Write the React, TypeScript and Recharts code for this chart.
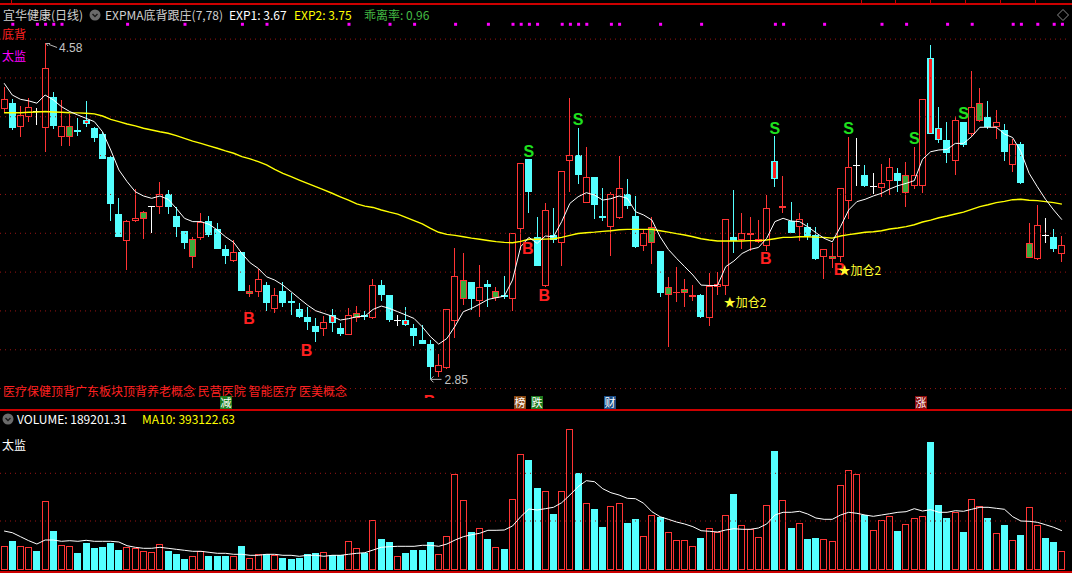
import React from "react";
import { ComposedChart, Bar, Line, XAxis, YAxis, ReferenceLine } from "recharts";

// 宜华健康 daily K-line, 130 sessions
const opens = [
  4.239, 4.273, 4.149, 4.197, 4.228, 4.141, 4.3, 4.098, 4.098, 4.134,
  4.185, 4.144, 4.111, 3.995, 3.699, 3.558, 3.661, 3.672, 3.74, 3.737,
  3.802, 3.689, 3.611, 3.479, 3.577, 3.663, 3.622, 3.519, 3.457, 3.503,
  3.288, 3.299, 3.333, 3.208, 3.304, 3.251, 3.208, 3.17, 3.124, 3.108,
  3.177, 3.111, 3.077, 3.166, 3.177, 3.166, 3.331, 3.282, 3.153, 3.153,
  3.111, 3.05, 3.029, 2.886, 2.907, 3.149, 3.259, 3.349, 3.249, 3.337,
  3.268, 3.28, 3.259, 3.62, 3.983, 3.579, 3.33, 3.591, 3.548, 3.971,
  4.003, 3.758, 3.89, 3.689, 3.63, 3.677, 3.802, 3.689, 3.536, 3.548,
  3.508, 3.28, 3.29, 3.29, 3.27, 3.282, 3.161, 3.321, 3.33, 3.581,
  3.565, 3.591, 3.556, 3.536, 3.972, 3.728, 3.663, 3.63, 3.63, 3.591,
  3.479, 3.469, 3.479, 3.768, 3.95, 3.9, 3.845, 3.831, 3.867, 3.909,
  3.809, 3.845, 3.845, 4.505, 4.144, 4.081, 3.971, 4.173, 4.111, 4.18,
  4.197, 4.149, 4.132, 3.95, 4.06, 3.471, 3.469, 3.593, 3.581, 3.491,
];
const highs = [
  4.355, 4.29, 4.256, 4.295, 4.244, 4.58, 4.33, 4.287, 4.215, 4.192,
  4.282, 4.146, 4.122, 3.996, 3.782, 3.668, 3.828, 3.715, 3.74, 3.862,
  3.823, 3.737, 3.613, 3.582, 3.704, 3.689, 3.653, 3.539, 3.565, 3.503,
  3.333, 3.414, 3.347, 3.316, 3.349, 3.29, 3.239, 3.218, 3.161, 3.173,
  3.208, 3.139, 3.215, 3.225, 3.201, 3.364, 3.359, 3.282, 3.177, 3.221,
  3.132, 3.127, 3.05, 2.977, 3.208, 3.522, 3.496, 3.349, 3.436, 3.359,
  3.325, 3.379, 3.603, 3.964, 3.983, 3.685, 3.754, 3.728, 3.921, 4.295,
  4.142, 4.043, 3.89, 3.831, 3.814, 3.998, 3.88, 3.792, 3.617, 3.682,
  3.508, 3.373, 3.424, 3.364, 3.333, 3.285, 3.397, 3.398, 3.672, 3.823,
  3.704, 3.684, 3.666, 3.797, 4.101, 3.895, 3.761, 3.703, 3.654, 3.63,
  3.52, 3.551, 3.831, 4.098, 4.091, 3.95, 3.909, 3.955, 3.988, 3.935,
  3.965, 4.046, 4.29, 4.57, 4.249, 4.172, 4.204, 4.173, 4.436, 4.347,
  4.282, 4.235, 4.163, 4.087, 4.07, 3.651, 3.747, 3.678, 3.622, 3.586,
];
const lows = [
  4.218, 4.132, 4.094, 4.175, 4.158, 4.02, 4.135, 4.051, 4.051, 4.103,
  4.146, 4.072, 3.981, 3.663, 3.579, 3.41, 3.658, 3.57, 3.603, 3.701,
  3.701, 3.582, 3.52, 3.422, 3.563, 3.582, 3.519, 3.441, 3.45, 3.304,
  3.273, 3.273, 3.201, 3.191, 3.221, 3.178, 3.166, 3.101, 3.041, 3.07,
  3.091, 3.07, 3.074, 3.142, 3.153, 3.156, 3.252, 3.144, 3.122, 3.122,
  3.019, 3.029, 2.85, 2.861, 2.902, 3.063, 3.23, 3.204, 3.17, 3.221,
  3.252, 3.264, 3.201, 3.514, 3.703, 3.431, 3.325, 3.551, 3.431, 3.814,
  3.854, 3.754, 3.675, 3.665, 3.483, 3.675, 3.723, 3.522, 3.51, 3.441,
  3.273, 3.012, 3.247, 3.221, 3.252, 3.165, 3.122, 3.282, 3.282, 3.496,
  3.517, 3.51, 3.551, 3.51, 3.837, 3.703, 3.599, 3.562, 3.565, 3.462,
  3.362, 3.422, 3.453, 3.673, 3.843, 3.837, 3.802, 3.785, 3.795, 3.814,
  3.733, 3.826, 3.806, 4.11, 4.063, 3.964, 3.902, 4.043, 4.098, 4.175,
  4.135, 4.084, 3.974, 3.916, 3.854, 3.471, 3.462, 3.551, 3.503, 3.453,
];
const closes = [
  4.29, 4.144, 4.208, 4.249, 4.228, 4.45, 4.153, 4.151, 4.151, 4.123,
  4.163, 4.093, 3.984, 3.752, 3.582, 3.663, 3.677, 3.708, 3.74, 3.8,
  3.733, 3.632, 3.55, 3.569, 3.66, 3.591, 3.519, 3.484, 3.503, 3.304,
  3.302, 3.367, 3.239, 3.28, 3.242, 3.242, 3.17, 3.142, 3.091, 3.141,
  3.139, 3.081, 3.177, 3.187, 3.168, 3.331, 3.282, 3.153, 3.153, 3.13,
  3.07, 3.031, 2.912, 2.919, 3.208, 3.378, 3.359, 3.263, 3.321, 3.325,
  3.302, 3.27, 3.599, 3.96, 3.814, 3.433, 3.718, 3.565, 3.921, 4.001,
  3.902, 3.89, 3.744, 3.68, 3.802, 3.831, 3.742, 3.531, 3.599, 3.63,
  3.294, 3.321, 3.3, 3.312, 3.28, 3.17, 3.33, 3.337, 3.672, 3.558,
  3.599, 3.601, 3.57, 3.728, 3.879, 3.742, 3.603, 3.672, 3.586, 3.465,
  3.517, 3.481, 3.831, 3.94, 3.95, 3.845, 3.845, 3.857, 3.94, 3.869,
  3.898, 3.898, 4.29, 4.11, 4.081, 4.015, 4.184, 4.053, 4.249, 4.271,
  4.146, 4.172, 4.017, 4.06, 3.861, 3.548, 3.641, 3.593, 3.519, 3.538,
];

// EXPMA(7) and EXPMA(78)
const exp1 = [
  4.373, 4.312, 4.29, 4.282, 4.27, 4.312, 4.287, 4.252, 4.227, 4.209,
  4.192, 4.175, 4.123, 4.029, 3.926, 3.866, 3.814, 3.792, 3.78, 3.792,
  3.775, 3.728, 3.677, 3.66, 3.66, 3.646, 3.617, 3.582, 3.553, 3.496,
  3.448, 3.419, 3.376, 3.359, 3.333, 3.299, 3.264, 3.23, 3.201, 3.187,
  3.173, 3.153, 3.16, 3.17, 3.173, 3.208, 3.225, 3.213, 3.196, 3.179,
  3.161, 3.118, 3.067, 3.029, 3.058, 3.122, 3.196, 3.213, 3.235, 3.259,
  3.268, 3.276, 3.359, 3.531, 3.579, 3.548, 3.586, 3.582, 3.66, 3.754,
  3.788, 3.809, 3.797, 3.771, 3.778, 3.792, 3.78, 3.711, 3.694, 3.668,
  3.582, 3.517, 3.471, 3.428, 3.385, 3.333, 3.331, 3.331, 3.428, 3.457,
  3.496, 3.517, 3.527, 3.574, 3.66, 3.677, 3.663, 3.66, 3.634, 3.603,
  3.574, 3.556, 3.634, 3.72, 3.763, 3.775, 3.792, 3.806, 3.828, 3.845,
  3.857, 3.871, 3.981, 4.02, 4.029, 4.032, 4.063, 4.063, 4.098, 4.146,
  4.146, 4.146, 4.111, 4.093, 4.02, 3.909, 3.84, 3.775, 3.72, 3.67,
];
const exp2 = [
  4.221, 4.221, 4.221, 4.223, 4.225, 4.227, 4.225, 4.223, 4.221, 4.22,
  4.218, 4.215, 4.204, 4.187, 4.175, 4.163, 4.153, 4.141, 4.132, 4.123,
  4.115, 4.103, 4.089, 4.075, 4.063, 4.05, 4.038, 4.024, 4.012, 3.995,
  3.983, 3.969, 3.952, 3.929, 3.909, 3.892, 3.874, 3.857, 3.84, 3.823,
  3.806, 3.788, 3.771, 3.751, 3.74, 3.733, 3.72, 3.709, 3.699, 3.682,
  3.665, 3.648, 3.625, 3.605, 3.594, 3.589, 3.582, 3.575, 3.569, 3.563,
  3.557, 3.553, 3.551, 3.558, 3.569, 3.569, 3.57, 3.572, 3.579, 3.589,
  3.599, 3.603, 3.606, 3.61, 3.613, 3.618, 3.62, 3.62, 3.62, 3.62,
  3.613, 3.606, 3.598, 3.591, 3.582, 3.572, 3.565, 3.56, 3.56, 3.56,
  3.56, 3.562, 3.562, 3.565, 3.572, 3.579, 3.579, 3.582, 3.582, 3.58,
  3.579, 3.575, 3.586, 3.593, 3.599, 3.605, 3.608, 3.613, 3.622, 3.627,
  3.634, 3.644, 3.658, 3.668, 3.68, 3.689, 3.699, 3.709, 3.723, 3.737,
  3.747, 3.758, 3.764, 3.773, 3.775, 3.77, 3.768, 3.763, 3.758, 3.75,
];

const volumes = [
  240000, 290000, 240000, 230000, 190000, 690000, 390000, 250000, 240000, 170000,
  270000, 220000, 230000, 270000, 200000, 230000, 220000, 190000, 180000, 260000,
  190000, 160000, 110000, 140000, 190000, 140000, 140000, 140000, 140000, 240000,
  120000, 160000, 160000, 150000, 120000, 110000, 120000, 160000, 170000, 180000,
  150000, 150000, 290000, 220000, 170000, 500000, 310000, 280000, 140000, 170000,
  200000, 200000, 280000, 160000, 340000, 960000, 700000, 380000, 420000, 310000,
  230000, 210000, 710000, 1160000, 1100000, 820000, 790000, 560000, 790000, 1410000,
  970000, 670000, 610000, 430000, 640000, 670000, 470000, 510000, 340000, 550000,
  530000, 380000, 300000, 300000, 240000, 320000, 420000, 380000, 550000, 760000,
  450000, 410000, 330000, 650000, 1190000, 700000, 420000, 470000, 310000, 320000,
  310000, 290000, 850000, 1000000, 960000, 550000, 400000, 500000, 540000, 390000,
  460000, 520000, 540000, 1280000, 650000, 520000, 580000, 380000, 710000, 640000,
  520000, 370000, 450000, 300000, 350000, 630000, 450000, 320000, 280000, 189201,
];
const ma10 = [
  390000, 373000, 333000, 293000, 260000, 300000, 300000, 287000, 293000, 287000,
  297000, 287000, 287000, 287000, 280000, 243000, 227000, 217000, 217000, 227000,
  217000, 207000, 197000, 187000, 187000, 177000, 167000, 167000, 157000, 157000,
  147000, 147000, 157000, 157000, 147000, 147000, 137000, 147000, 147000, 137000,
  147000, 147000, 157000, 167000, 173000, 200000, 227000, 233000, 237000, 237000,
  237000, 247000, 247000, 237000, 260000, 300000, 333000, 353000, 367000, 397000,
  397000, 400000, 440000, 533000, 610000, 600000, 613000, 627000, 673000, 750000,
  833000, 893000, 883000, 813000, 773000, 750000, 717000, 713000, 667000, 583000,
  533000, 507000, 480000, 460000, 433000, 393000, 387000, 380000, 400000, 413000,
  407000, 407000, 420000, 460000, 550000, 577000, 577000, 587000, 560000, 520000,
  507000, 507000, 550000, 577000, 567000, 550000, 537000, 550000, 563000, 577000,
  583000, 613000, 590000, 603000, 577000, 577000, 593000, 587000, 607000, 627000,
  627000, 617000, 607000, 533000, 490000, 487000, 477000, 453000, 427000, 393123,
];

// candle variants used by the indicator's colouring
const dojiBars = [4, 18, 48, 104, 106, 127];
const greenCore = [8, 17, 23, 30, 43, 56, 60, 79, 81, 83, 84, 92, 95, 101, 110, 119, 125];
const redCore = [10, 40, 49, 94, 113, 114];

// signal markers: [bar index, price level]
const sellSignals = [[64, 4.019], [70, 4.184], [94, 4.14], [103, 4.14], [111, 4.089], [117, 4.215]];
const buySignals = [[30, 3.163], [37, 2.996], [52, 2.736], [64, 3.524], [66, 3.282], [93, 3.468], [102, 3.411]];
const addSignals = [[88, 3.246], [102, 3.414]];
const bottomDots = [1, 4, 5, 6, 7, 15, 22, 29, 32, 42, 47, 50, 55, 59, 62, 63, 64, 65, 68, 69, 70, 71, 74, 75, 80, 85, 94, 95, 100, 107, 110, 115, 118, 123, 124, 126, 128, 129];
const DOT_LEVEL = 4.679;
const extremes = [[5, 4.58], [52, 2.85]];

const priceGrid = [2.8, 3.0, 3.2, 3.4, 3.6, 3.8, 4.0, 4.2, 4.4, 4.6];
const volumeGrid = [490000, 967000];

const UP = "#ff3434";
const DOWN = "#54ffff";
const CORE_GREEN = "#3cab3c";
const GRID = "#9a1414";
const SIG_GREEN = "#1fe01f";
const SIG_RED = "#ff2020";
const CJK = '"Noto Sans CJK SC", "Noto Sans", sans-serif';
const LATIN = '"Liberation Sans", Arial, sans-serif';

const pick = (list: number[][], i: number) => {
  const hit = list.find((s) => s[0] === i);
  return hit ? hit[1] : null;
};

const rows = opens.map((open, i) => {
  const close = closes[i];
  const prev = i > 0 ? closes[i - 1] : close;
  return {
    i,
    open,
    close,
    high: highs[i],
    low: lows[i],
    range: [lows[i], highs[i]],
    up: close > open || (close === open && close >= prev),
    style: dojiBars.includes(i) ? "doji" : greenCore.includes(i) ? "green" : redCore.includes(i) ? "red" : "",
    exp1: exp1[i],
    exp2: exp2[i],
    vol: volumes[i],
    ma10: ma10[i],
    sell: pick(sellSignals, i),
    buy: pick(buySignals, i),
    add: pick(addSignals, i),
    extreme: pick(extremes, i),
    dot: bottomDots.includes(i) ? DOT_LEVEL : null,
  };
});

function Candle(props: any) {
  const { x, y, width, height, payload } = props;
  const { open, close, high, low, style, up } = payload;
  const k = height / (high - low);
  const py = (p: number) => y + (high - p) * k;
  const cx = Math.floor(x + width / 2) + 0.5;
  const hi = Math.round(y);
  const lo = Math.round(y + height);
  const top = Math.round(py(Math.max(open, close)));
  const bot = Math.max(Math.round(py(Math.min(open, close))), top + 1);

  if (style === "doji") {
    return (
      <g>
        <line x1={cx} x2={cx} y1={hi} y2={lo} stroke="#fff" />
        <line x1={cx - 3.5} x2={cx + 3.5} y1={top + 0.5} y2={top + 0.5} stroke="#fff" />
      </g>
    );
  }
  if (up) {
    const thin = bot - top <= 2;
    return (
      <g>
        <line x1={cx} x2={cx} y1={hi} y2={top} stroke={UP} />
        <line x1={cx} x2={cx} y1={bot} y2={lo} stroke={UP} />
        {thin ? (
          <rect x={cx - 3.5} y={top} width={7} height={bot - top} fill={UP} />
        ) : (
          <rect
            x={cx - 3}
            y={top + 0.5}
            width={6}
            height={bot - top - 1}
            fill={style === "green" ? CORE_GREEN : "#000"}
            stroke={UP}
          />
        )}
      </g>
    );
  }
  return (
    <g>
      <line x1={cx} x2={cx} y1={hi} y2={lo} stroke={DOWN} />
      <rect x={cx - 3.5} y={top} width={7} height={bot - top} fill={DOWN} />
      {style === "red" && (
        <rect x={cx - 1.5} y={top + 1} width={3} height={Math.max(bot - top - 2, 1)} fill="#ff1e1e" />
      )}
    </g>
  );
}

function VolumeBar(props: any) {
  const { x, y, width, height, payload } = props;
  const cx = Math.floor(x + width / 2) + 0.5;
  const top = Math.round(y);
  const bot = Math.round(y + height);
  if (payload.up) {
    return <rect x={cx - 3} y={top + 0.5} width={6} height={bot - top - 1} fill="none" stroke={UP} />;
  }
  return <rect x={cx - 3.5} y={top} width={7} height={bot - top} fill={DOWN} />;
}

const empty = (p: any) => <g key={`e${p.index}`} />;
const hasPoint = (p: any) => p.value != null && Number.isFinite(p.cy);

const sellDot = (p: any) =>
  hasPoint(p) ? (
    <text key={`s${p.index}`} x={p.cx} y={p.cy} fill={SIG_GREEN} fontSize={16} fontWeight="bold"
      fontFamily={LATIN} textAnchor="middle" dominantBaseline="central">S</text>
  ) : empty(p);

const buyDot = (p: any) =>
  hasPoint(p) ? (
    <text key={`b${p.index}`} x={p.cx - 1} y={p.cy} fill={SIG_RED} fontSize={16} fontWeight="bold"
      fontFamily={LATIN} textAnchor="middle" dominantBaseline="central">B</text>
  ) : empty(p);

const addDot = (p: any) =>
  hasPoint(p) ? (
    <text key={`a${p.index}`} x={p.cx - 2} y={p.cy} fill="#ffff30" fontSize={12}
      fontFamily={CJK} dominantBaseline="central">★加仓2</text>
  ) : empty(p);

const markDot = (p: any) =>
  hasPoint(p) ? <rect key={`m${p.index}`} x={p.cx - 1} y={p.cy - 1} width={3} height={3} fill="#ff00ff" /> : empty(p);

const extremeDot = (p: any) => {
  if (!hasPoint(p)) return empty(p);
  const isHigh = p.value > 4;
  const cx = p.cx;
  const cy = p.cy;
  const ty = isHigh ? cy + 5 : cy + 1;
  return (
    <g key={`x${p.index}`} stroke="#b8b8b8" fill="none">
      {isHigh ? (
        <path d={`M${cx + 1} ${cy + 0.5} L${cx + 5} ${cy + 0.5} M${cx + 1} ${cy + 0.5} L${cx + 3} ${cy + 3} M${cx + 4} ${cy + 1.5} L${cx + 12} ${cy + 4.5}`} />
      ) : (
        <path d={`M${cx} ${cy + 0.5} L${cx + 11} ${cy + 0.5} M${cx} ${cy + 0.5} L${cx + 3} ${cy - 2.5} M${cx} ${cy + 0.5} L${cx + 3} ${cy + 3.5}`} />
      )}
      <text x={cx + 14} y={ty} fill="#c4c4c4" stroke="none" fontSize={12} fontFamily={LATIN}
        dominantBaseline="central">{p.value.toFixed(2)}</text>
    </g>
  );
};

const Txt = ({ x, y, color, size = 12, family = CJK, children }: any) => (
  <div style={{ position: "absolute", left: x, top: y - 8, height: 16, lineHeight: "16px", fontSize: size, color, fontFamily: family, whiteSpace: "pre" }}>
    {children}
  </div>
);

const CircleIcon = ({ x, y }: any) => (
  <svg style={{ position: "absolute", left: x, top: y }} width={12} height={12}>
    <circle cx={6} cy={6} r={5.5} fill="#6a6a6a" />
    <path d="M3.5 5 L6 7.5 L8.5 5" stroke="#1a1a1a" strokeWidth={1.4} fill="none" />
  </svg>
);

const badges = [
  { x: 220, t: "减", bg: "#1d7a1d" },
  { x: 514, t: "榜", bg: "#874712" },
  { x: 531, t: "跌", bg: "#1d7a1d" },
  { x: 604, t: "财", bg: "#1b4d86" },
  { x: 915, t: "涨", bg: "#8a0c0c" },
];
const toolbarTicks = [11, 861, 895, 930, 965, 1000, 1035];

export default function App() {
  return (
    <div style={{ position: "absolute", left: 0, top: 0, width: 1072, height: 573, background: "#000", overflow: "hidden" }}>
      <div style={{ position: "absolute", left: 0, top: 0 }}>
        <ComposedChart width={1072} height={410} data={rows} margin={{ top: 10, right: 6, bottom: 2, left: 0 }} barCategoryGap={0}>
          <XAxis dataKey="i" hide />
          <YAxis hide domain={[2.7, 4.75]} allowDataOverflow />
          {priceGrid.map((v) => (
            <ReferenceLine key={v} y={v} stroke={GRID} strokeDasharray="1 4" />
          ))}
          <Bar dataKey="range" isAnimationActive={false} shape={(p: any) => <Candle {...p} />} />
          <Line dataKey="exp2" stroke="#ffff00" strokeWidth={1.4} dot={false} isAnimationActive={false} />
          <Line dataKey="exp1" stroke="#ffffff" strokeWidth={1} dot={false} isAnimationActive={false} />
          <Line dataKey="dot" stroke="none" dot={markDot} activeDot={false} isAnimationActive={false} />
          <Line dataKey="sell" stroke="none" dot={sellDot} activeDot={false} isAnimationActive={false} />
          <Line dataKey="buy" stroke="none" dot={buyDot} activeDot={false} isAnimationActive={false} />
          <Line dataKey="add" stroke="none" dot={addDot} activeDot={false} isAnimationActive={false} />
          <Line dataKey="extreme" stroke="none" dot={extremeDot} activeDot={false} isAnimationActive={false} />
        </ComposedChart>
      </div>

      <div style={{ position: "absolute", left: 0, top: 410 }}>
        <ComposedChart width={1072} height={163} data={rows} margin={{ top: 0, right: 6, bottom: 3, left: 0 }} barCategoryGap={0}>
          <XAxis dataKey="i" hide />
          <YAxis hide domain={[0, 1600000]} allowDataOverflow />
          {volumeGrid.map((v) => (
            <ReferenceLine key={v} y={v} stroke={GRID} strokeDasharray="1 4" />
          ))}
          <Bar dataKey="vol" isAnimationActive={false} shape={(p: any) => <VolumeBar {...p} />} />
          <Line dataKey="ma10" stroke="#ffffff" strokeWidth={1} dot={false} isAnimationActive={false} />
        </ComposedChart>
      </div>

      {/* toolbar strip and header */}
      <div style={{ position: "absolute", left: 0, top: 3, width: 1072, height: 2, background: "#cc0000" }} />
      {toolbarTicks.map((x) => (
        <div key={x} style={{ position: "absolute", left: x, top: 0, width: 1, height: 4, background: "#cc0000" }} />
      ))}
      <Txt x={3} y={15} color="#cfcfcf">宜华健康(日线)</Txt>
      <CircleIcon x={89} y={9} />
      <Txt x={105} y={15} color="#cfcfcf">EXPMA底背跟庄(7,78)</Txt>
      <Txt x={229} y={15} color="#ffffff">EXP1: 3.67</Txt>
      <Txt x={294} y={15} color="#ffff00">EXP2: 3.75</Txt>
      <Txt x={364} y={15} color="#44bb44">乖离率: 0.96</Txt>
      <svg style={{ position: "absolute", left: 1057, top: 9 }} width={12} height={12}>
        <path d="M6 0.5 L11.5 6 L6 11.5 L0.5 6 Z" stroke="#8a8a8a" fill="none" />
      </svg>
      <Txt x={2} y={34} color="#ff2020">底背</Txt>
      <Txt x={2} y={56} color="#ff00ff">太监</Txt>

      {/* panel footer: concepts and event badges */}
      <div style={{ position: "absolute", left: 0, top: 397.5, width: 1072, height: 12, background: "#000" }} />
      <Txt x={3} y={391} color="#ff2020">医疗保健顶背广东板块顶背养老概念 民营医院 智能医疗 医美概念</Txt>
      {badges.map((b) => (
        <div key={b.x} style={{ position: "absolute", left: b.x, top: 396, width: 12, height: 13, background: b.bg, color: "#fff", fontSize: 11, lineHeight: "13px", textAlign: "center", fontFamily: CJK }}>
          {b.t}
        </div>
      ))}
      <div style={{ position: "absolute", left: 0, top: 409, width: 1072, height: 2, background: "#cc0000" }} />

      {/* volume panel header */}
      <CircleIcon x={2} y={413} />
      <Txt x={17} y={419} color="#ffffff">VOLUME: 189201.31</Txt>
      <Txt x={142} y={419} color="#ffff00">MA10: 393122.63</Txt>
      <Txt x={2} y={445} color="#ffffff">太监</Txt>
      <div style={{ position: "absolute", left: 0, top: 571, width: 1072, height: 2, background: "#cc0000" }} />
    </div>
  );
}
